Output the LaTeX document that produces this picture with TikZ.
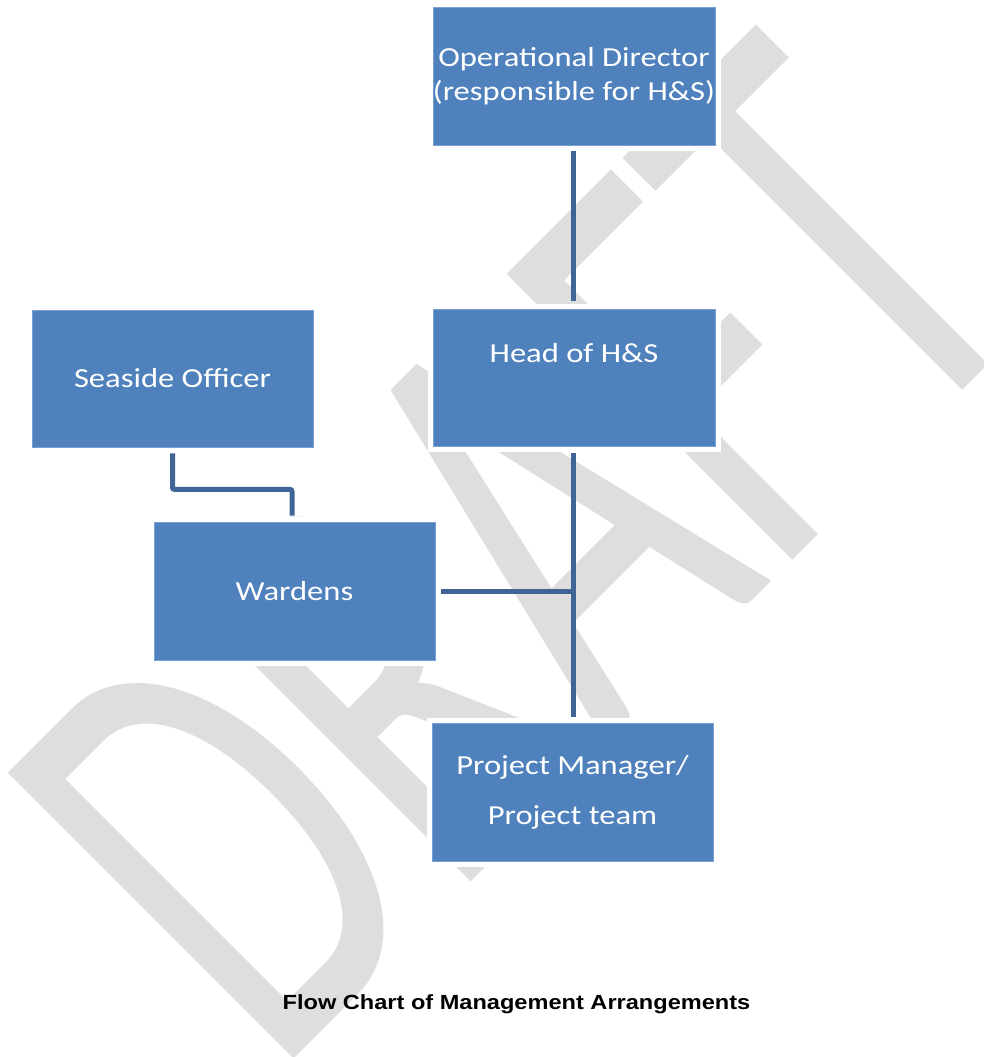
\documentclass[tikz,border=0pt]{standalone}
\usepackage{fontspec}
\setmainfont{Carlito}[FakeStretch=1.185]
\newfontfamily\arialfont{Liberation Sans}[FakeStretch=1.15]
\newfontfamily\wmfont{Carlito}
\definecolor{boxblue}{RGB}{79,129,189}
\definecolor{boxedge}{RGB}{120,160,210}
\definecolor{connblue}{RGB}{64,100,150}
\definecolor{wmgray}{RGB}{222,222,222}
\tikzset{
  orgbox/.style={rectangle, fill=boxblue, draw=boxedge, line width=0.8pt,
    preaction={draw=white, line width=11pt},
    minimum width=281pt, minimum height=137pt, inner sep=0pt,
    text=white, align=center, font=\fontsize{27.5}{34}\selectfont},
  conn/.style={draw=connblue, line width=5pt},
}
\begin{document}
\begin{tikzpicture}[x=1pt,y=-1pt]
\useasboundingbox (0,0) rectangle (983,1057);
\fill[white] (0,0) rectangle (983,1057);
% watermark
\node[rotate=45, xscale=0.645, anchor=base west, inner sep=0pt, text=wmgray,
  font=\wmfont\fontsize{630}{630}\selectfont] (wm) at (274,1079) {DRAFT};
% boxes
\node[orgbox, minimum width=282pt, minimum height=138pt] (od) at (574,76) {Operational Director\\(responsible for H\&S)};
\node[orgbox, minimum width=282pt, text height=20pt, text depth=51pt] (hs) at (574,377.5) {Head of H\&S};
\node[orgbox] (so) at (172.5,378.5) {Seaside Officer};
\node[orgbox, minimum height=138pt] (wa) at (294.5,591) {Wardens};
\node[orgbox, minimum height=138pt] (pm) at (572.5,792) {Project Manager/\\[16pt]Project team};
% connectors
\draw[conn, shorten <=6pt, shorten >=7.5pt] ([xshift=-1pt]od.south) -- ([xshift=-1pt]od.south |- hs.north);
\draw[conn, shorten <=7pt, shorten >=6pt] ([xshift=-1pt]hs.south) -- ([xshift=-1pt]hs.south |- pm.north);
\draw[conn, shorten <=6pt] (wa.east) -- ([xshift=1.5pt]wa.east -| hs.south);
\draw[conn, shorten <=6pt, shorten >=6pt, rounded corners=2pt] (so.south) -- ++(0,42) -| ([xshift=-2.5pt]wa.north);
% caption
\node[anchor=base, inner sep=0pt, font=\arialfont\bfseries\fontsize{20.5}{24}\selectfont] (cap) at (516.5,1009) {Flow Chart of Management Arrangements};
\end{tikzpicture}
\end{document}
